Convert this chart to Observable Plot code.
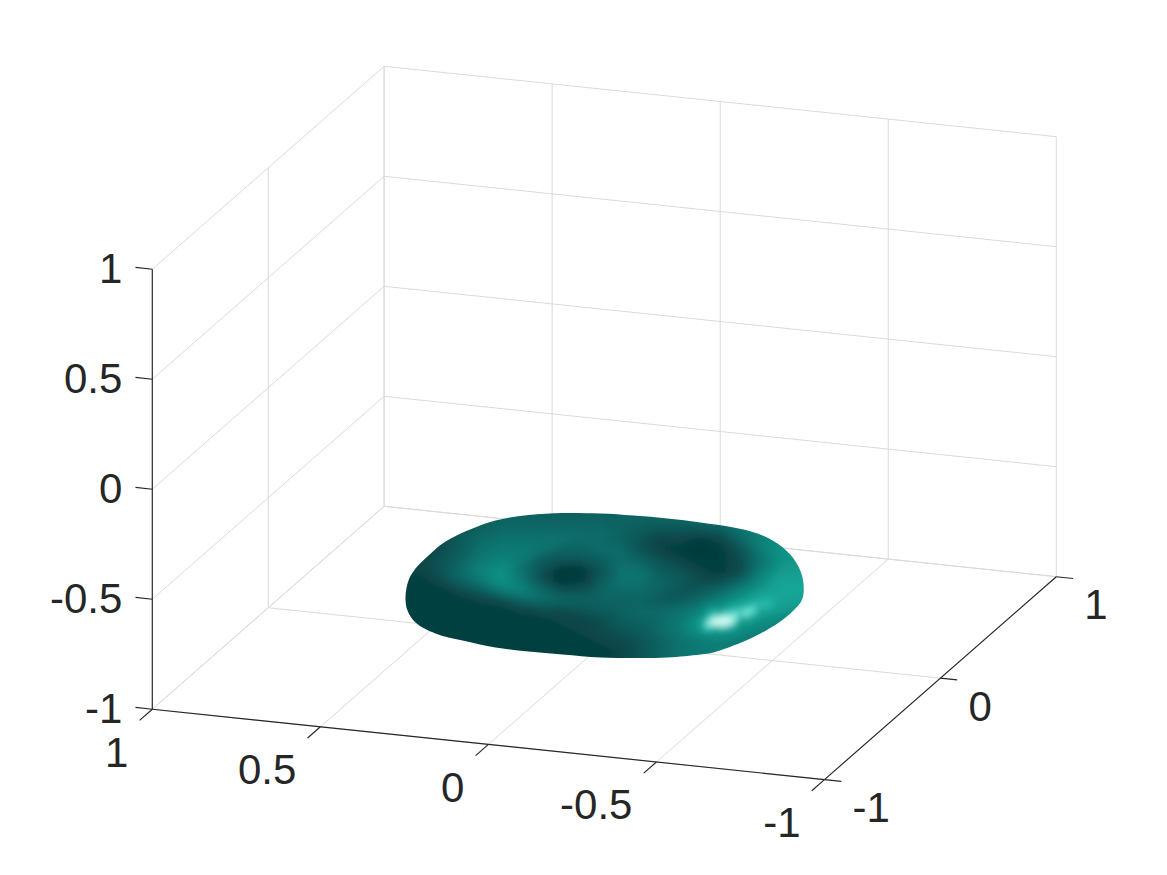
<!DOCTYPE html>
<html><head><meta charset="utf-8">
<script src="https://cdn.jsdelivr.net/npm/d3@7"></script>
<script src="https://cdn.jsdelivr.net/npm/@observablehq/plot@0.6"></script>
<style>html,body{margin:0;background:#fff}svg{display:block}</style>
</head><body><div id="chart"></div><script>
const xTicks=[1,0.5,0,-0.5,-1], yTicks=[-1,0,1], zTicks=[-1,-0.5,0,0.5,1];
const xLabels=["1","0.5","0","-0.5","-1"], yLabels=["-1","0","1"], zLabels=["-1","-0.5","0","0.5","1"];
// silhouette of the surface, in view-plane units
const outlineU=[405,408,415,428,445,472,495,528,562,600,633,667,700,733,757,777,793,802,802,793,777,750,733,713,700,667,633,600,562,528,495,462,435,415,407];
const outlineV=[597,580,568,555,541,528,520,514.5,512.5,513,515,518,522,527,533,543,558,577,598,610,623,638,645,652,654,657,657.5,657,654,651,647,640,633,622,610];
// shading of the surface sampled on a view-plane lattice (0 dark .. 10 highlight)
const shadeU=[385,420,440,460,480,500,520,540,560,580,600,620,640,660,680,700,720,740,760,780,820];
const shadeV=[495,520,530,540,550,560,570,580,590,600,610,620,630,640,650,675];
const shadeRows=[
[2,2,2,2,3,3,3,3,3,3,3,4,4,4,4,4,4,4,5,5,5],
[2,2,2,2.5,3,3.5,3.5,3.5,3.5,3.5,3.5,3.5,3.5,3.5,3.5,4,4,5,5,5,6],
[2,2,2,2.5,3.5,4,4,4,4,4,4,3.5,3,2.5,2.5,2.5,3,4.5,5.5,6,6],
[1.5,1.5,2,3,4,4.5,4.5,4.5,4.5,4,4,3.5,2.5,1.5,1.5,1,1.5,3.5,5.5,6,6.5],
[1.5,1.5,2,3,4.5,5,5,4.5,3.5,3.5,4,4,2.5,1.5,1,0.5,1,2.5,5,6.5,7],
[1.5,1.5,2.5,3.5,5,5.5,5,3,2.5,2.5,3,4,3.5,2.5,1.5,1,1,2,4.5,6.5,7],
[1.5,1.5,2.5,4,5.5,6.5,4.5,2.5,0.5,0.5,2.5,4.5,4.5,3,2.5,1.5,1,2,5,7,7.5],
[1,1,2,3.5,5,6.5,5,2.5,0.5,1,3,4.5,4.5,3.5,3,2,2,3.5,6,7.5,7.5],
[1,1,1,2,3,5,5.5,4,2.5,2.5,3.5,4,4,3.5,2.5,3,4,5.5,7,7.5,7.5],
[1,1,1,1,1.5,2,3.5,4,3.5,3.5,3.5,3.5,3.5,3,3,4,5.5,7,8,7.5,7],
[1,1,1,1,1,1,1.5,2,2,2.5,3,3.5,4,4,4.5,5.5,7,8.5,7.5,7,6],
[1,1,1,1,1,1,1,1,1.5,1.5,2,3,3.5,4,5,7,9.5,7,6.5,6,5],
[1,1,1,1,1,1,1,1,1,1.5,2,2.5,3,4,5,6.5,7,6,5.5,5,5],
[1,1,1,1,1,1,1,1,1,1,1.5,2,2.5,3.5,4.5,5,5.5,5,5,5,5],
[1.5,1.5,1.5,1.5,1,1,1,1,1,1,1,1.5,2.5,3.5,4.5,5,5,5,5,5,5],
[1.5,1.5,1.5,1.5,1,1,1,1,1,1,1,1.5,2.5,3.5,4.5,5,5,5,5,5,5]];
// extra samples around the specular highlight
const glintU=[717,712,722,708,728,722,735,745,752,764,700,735,712,728,745];
const glintV=[620,622,618,624,622,626,618,613,610,605,628,626,612,612,622];
const glintS=[10,10,10,9.5,10,9.5,9.5,9.5,9,8.5,7,7.5,8,8.5,7];
const shadeLevels=[0,1,2,3,4,5,6,7,8,9,10];
const shadeColors=["#053437","#063f41","#084c4e","#0a5c5c","#0c6b68","#0d7a74","#0f8a80","#13998c","#1cb0a2","#6fe8da","#f2fffd"];

const W=1167,H=875;
// orthographic view of the axes cube
const pu=(x,y,z)=>603.8-336.1*x+115.9*y;
const pv=(x,y,z)=>642.45-35.2*x-101.45*y-220*(z+1);
const seg=(a,b)=>({x1:pu(...a),y1:pv(...a),x2:pu(...b),y2:pv(...b)});

const grid=[];
for(const x of xTicks){grid.push(seg([x,1,-1],[x,1,1]));grid.push(seg([x,-1,-1],[x,1,-1]));}
for(const y of yTicks){grid.push(seg([1,y,-1],[1,y,1]));grid.push(seg([1,y,-1],[-1,y,-1]));}
for(const z of zTicks){grid.push(seg([1,-1,z],[1,1,z]));grid.push(seg([1,1,z],[-1,1,z]));}

const axes=[seg([1,-1,-1],[-1,-1,-1]),seg([-1,-1,-1],[-1,1,-1]),seg([1,-1,-1],[1,-1,1])];
for(const x of xTicks)axes.push(seg([x,-1,-1],[x,-1.11,-1]));
for(const y of yTicks)axes.push(seg([-1,y,-1],[-1.05,y,-1]));
for(const z of zTicks)axes.push(seg([1,-1,z],[1.05,-1,z]));

const shade=[];
shadeV.forEach((v,j)=>shadeU.forEach((u,i)=>shade.push({u,v,s:shadeRows[j][i]})));
glintU.forEach((u,i)=>shade.push({u,v:glintV[i],s:glintS[i]}));

const font={fontFamily:"'Liberation Sans',Arial,sans-serif",fontSize:42,fill:"#262626",lineAnchor:"middle"};
const chart=Plot.plot({
  width:W,height:H,margin:0,
  style:{background:"#fff"},
  x:{domain:[0,W],range:[0,W],axis:null},
  y:{domain:[0,H],range:[0,H],axis:null},
  color:{type:"linear",domain:shadeLevels,range:shadeColors},
  marks:[
    Plot.link(grid,{x1:"x1",y1:"y1",x2:"x2",y2:"y2",stroke:"#dadada",strokeWidth:1}),
    Plot.raster(shade,{x:"u",y:"v",fill:"s",interpolate:"barycentric",pixelSize:1}),
    Plot.link(axes,{x1:"x1",y1:"y1",x2:"x2",y2:"y2",stroke:"#262626",strokeWidth:1.15}),
    Plot.text(xTicks,{x:d=>pu(d,-1,-1),y:d=>pv(d,-1,-1),text:(d,i)=>xLabels[i],textAnchor:"end",dx:-24,dy:44,...font}),
    Plot.text(yTicks,{x:d=>pu(-1,d,-1),y:d=>pv(-1,d,-1),text:(d,i)=>yLabels[i],textAnchor:"start",dx:28,dy:29,...font}),
    Plot.text(zTicks,{x:d=>pu(1,-1,d),y:d=>pv(1,-1,d),text:(d,i)=>zLabels[i],textAnchor:"end",dx:-30,dy:0,...font})
  ]
});
document.getElementById("chart").append(chart);
// clip the shaded lattice to the silhouette; soften the sampling facets
const sx=chart.scale("x").apply,sy=chart.scale("y").apply;
const svg=d3.select(chart);
const defs=svg.append("defs");
defs.append("filter").attr("id","soft").attr("filterUnits","userSpaceOnUse")
  .attr("x",0).attr("y",0).attr("width",W).attr("height",H)
  .append("feGaussianBlur").attr("stdDeviation",3);
defs.append("clipPath").attr("id","blob").append("path")
  .attr("d",d3.line().curve(d3.curveCatmullRomClosed)(outlineU.map((u,i)=>[sx(u),sy(outlineV[i])])));
svg.select("image").attr("filter","url(#soft)").attr("clip-path","url(#blob)");
</script></body></html>
